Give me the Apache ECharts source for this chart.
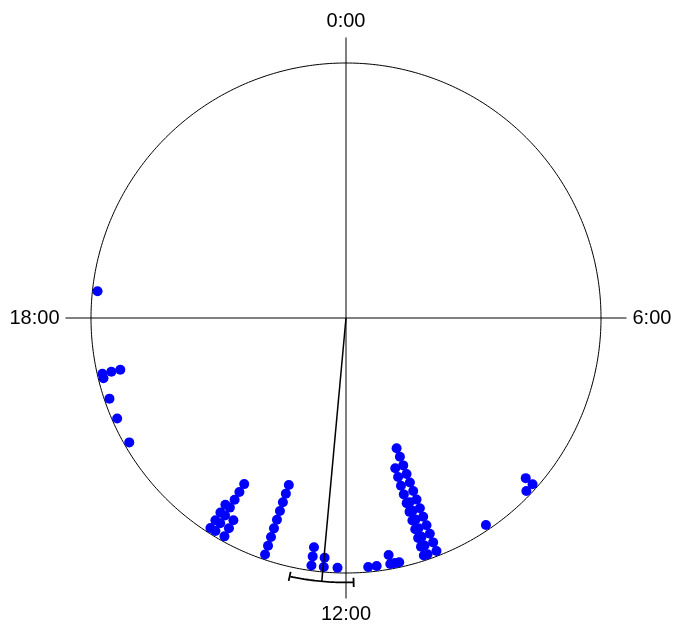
<!DOCTYPE html>
<html>
<head>
<meta charset="utf-8">
<script src="https://cdn.jsdelivr.net/npm/echarts@6/dist/echarts.min.js"></script>
<style>
  html, body { margin: 0; padding: 0; background: #fff; }
  #main { width: 676px; height: 630px; }
</style>
</head>
<body>
<div id="main"></div>
<script>
// clock labels round the circle
const tickHours = [0, 6, 12, 18];
const tickLabels = ['0:00', '6:00', '12:00', '18:00'];

// stacked bins: time of day (hours) and number of points in each stack
const binHours = [8.78, 8.92, 9.73, 10.585, 10.73, 10.79, 11.18, 11.25, 11.32, 11.53, 11.66,
  12.13, 12.34, 12.53, 13.26, 13.94, 14.10, 14.19, 16.01, 16.42, 16.745, 17.07, 17.14, 18.41];
const binCounts = [2, 1, 1, 13, 7, 11, 1, 1, 2, 1, 1,
  1, 2, 3, 9, 3, 7, 4, 1, 1, 1, 1, 3, 1];

// mean direction and its confidence interval (hours)
const meanHour = 12.35;
const ciHours = [11.89, 12.82];

// layout in radius units (circle = 1)
const R0 = 0.98, SEP = 0.036, R_CI = 1.037;

var points = [];
binHours.forEach(function (h, i) {
  for (var k = 0; k < binCounts[i]; k++) {
    points.push([R0 - k * SEP, h]);
  }
});

var circle = [];
for (var a = 0; a <= 24.0001; a += 0.05) circle.push([1, a]);

var arc = [];
for (var b = ciHours[0]; b <= ciHours[1] + 1e-9; b += 0.01) arc.push([R_CI, b]);
arc.push([R_CI, ciHours[1]]);

var lineBase = {
  type: 'line',
  coordinateSystem: 'polar',
  symbol: 'none',
  silent: true,
  animation: false
};

var myChart = echarts.init(document.getElementById('main'));
myChart.setOption({
  backgroundColor: '#fff',
  animation: false,
  polar: { center: [346, 318], radius: 280.5 },
  radiusAxis: { type: 'value', min: 0, max: 1.1, show: false },
  angleAxis: {
    type: 'value',
    min: 0,
    max: 24,
    interval: 6,
    startAngle: 90,
    clockwise: true,
    axisLine: { show: false },
    axisTick: { show: false },
    splitLine: { show: true, lineStyle: { color: '#000', width: 1 } },
    axisLabel: {
      margin: 6,
      fontSize: 20,
      color: '#000',
      fontFamily: 'Liberation Sans, Arial, sans-serif',
      formatter: function (v) {
        var i = tickHours.indexOf(v);
        return i < 0 ? '' : tickLabels[i];
      }
    }
  },
  series: [
    Object.assign({}, lineBase, { data: circle, lineStyle: { color: '#000', width: 1 }, z: 1 }),
    {
      type: 'scatter',
      coordinateSystem: 'polar',
      data: points,
      symbolSize: 10,
      itemStyle: { color: '#0000ff', opacity: 1 },
      animation: false,
      z: 2
    },
    Object.assign({}, lineBase, { data: [[0, meanHour], [R_CI, meanHour]], lineStyle: { color: '#000', width: 1.5 }, z: 3 }),
    Object.assign({}, lineBase, { data: arc, lineStyle: { color: '#000', width: 1.8 }, z: 3 }),
    Object.assign({}, lineBase, { data: [[R_CI - 0.018, ciHours[0]], [R_CI + 0.018, ciHours[0]]], lineStyle: { color: '#000', width: 1.8 }, z: 3 }),
    Object.assign({}, lineBase, { data: [[R_CI - 0.018, ciHours[1]], [R_CI + 0.018, ciHours[1]]], lineStyle: { color: '#000', width: 1.8 }, z: 3 })
  ]
});
</script>
</body>
</html>
